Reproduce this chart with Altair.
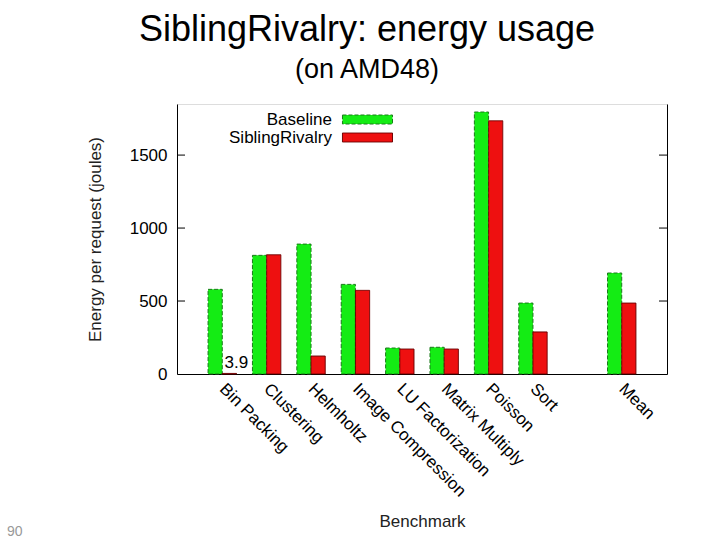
import altair as alt
import pandas as pd

# ---- data ----
benchmarks = ["Bin Packing", "Clustering", "Helmholtz", "Image Compression",
              "LU Factorization", "Matrix Multiply", "Poisson", "Sort", "Mean"]
baseline = [580, 813, 890, 614, 178, 183, 1795, 486, 692]
sibling = [3.9, 817, 123, 573, 171, 171, 1735, 288, 486]
series_names = ["Baseline", "SiblingRivalry"]
x_domain = ["Bin Packing", "Clustering", "Helmholtz", "Image Compression",
            "LU Factorization", "Matrix Multiply", "Poisson", "Sort", " ", "Mean"]
y_ticks = [500, 1000, 1500]
y_labels = [0, 500, 1000, 1500]
fill_colors = ["#14ec14", "#ee1010"]
stroke_colors = ["#1a7a1a", "#6a0000"]
title_text = ["SiblingRivalry: energy usage"]
subtitle_text = ["(on AMD48)"]
page_number = ["90"]

rows = []
for b, v1, v2 in zip(benchmarks, baseline, sibling):
    rows.append({"bench": b, "series": series_names[0], "value": v1})
    rows.append({"bench": b, "series": series_names[1], "value": v2})
df = pd.DataFrame(rows)
tick_df = pd.DataFrame({"t": y_ticks})
page_df = pd.DataFrame({"p": page_number})
title_df = pd.DataFrame({"t": title_text})
subtitle_df = pd.DataFrame({"t": subtitle_text})

W, H = 490, 270
FONT = "Liberation Sans"

x_enc = alt.X("bench:N",
              scale=alt.Scale(domain=x_domain, paddingInner=0.36, paddingOuter=0.7),
              axis=alt.Axis(title="Benchmark", labelAngle=45, labelAlign="left",
                            labelBaseline="middle", labelPadding=12, ticks=False,
                            labelFontSize=17, titleFontSize=17, titleFontWeight="normal",
                            titlePadding=14, labelColor="black", titleColor="#222",
                            domainColor="black", labelFont=FONT, titleFont=FONT))
y_scale = alt.Scale(domain=[0, 1850], nice=False, zero=True)
y_enc = alt.Y("value:Q", scale=y_scale,
              axis=alt.Axis(title="Energy per request (joules)", values=y_labels,
                            format="d", ticks=False, grid=False, labelPadding=10,
                            labelFontSize=17, titleFontSize=17, titleFontWeight="normal",
                            titlePadding=25, labelColor="black", titleColor="#222",
                            domainColor="black", labelFont=FONT, titleFont=FONT))

legend = alt.Legend(title=None, orient="none", legendX=26, legendY=6,
                    symbolType="M14.44,-0.5H20V0.5H14.44Z", symbolSize=324,
                    labelAlign="right", labelOffset=110, labelFontSize=17,
                    labelFont=FONT, labelColor="black", rowPadding=0, padding=0,
                    symbolStrokeWidth=1, symbolOpacity=1)

bars = alt.Chart(df).mark_bar(strokeWidth=1, opacity=1).encode(
    x=x_enc,
    xOffset=alt.XOffset("series:N", scale=alt.Scale(domain=series_names, paddingInner=0)),
    y=y_enc,
    fill=alt.Fill("series:N", scale=alt.Scale(domain=series_names, range=fill_colors), legend=legend),
    stroke=alt.Stroke("series:N", scale=alt.Scale(domain=series_names, range=stroke_colors), legend=legend),
    strokeDash=alt.StrokeDash("series:N", scale=alt.Scale(domain=series_names, range=[[4, 2], [1, 0]]), legend=legend),
)

label = alt.Chart(df).transform_filter(
    "datum.series == 'SiblingRivalry' && datum.value < 10"
).mark_text(baseline="bottom", align="center", dy=-1, dx=7, fontSize=17, font=FONT, color="black").encode(
    x=alt.X("bench:N"),
    xOffset=alt.XOffset("series:N"),
    y=alt.Y("value:Q", scale=y_scale, axis=None),
    text=alt.Text("value:Q", format=".1f"),
)

right_axis = alt.Chart(df).mark_bar(opacity=0).encode(
    x=alt.X("bench:N"),
    y=alt.Y("value:Q", scale=y_scale,
            axis=alt.Axis(orient="right", title=None, labels=False, ticks=False,
                          grid=False, domainColor="black")),
)

ticks_left = alt.Chart(tick_df).mark_rule(color="black", strokeWidth=1).encode(
    y=alt.Y("t:Q", scale=y_scale, axis=None),
    x=alt.value(0), x2=alt.value(8),
)
ticks_right = alt.Chart(tick_df).mark_rule(color="black", strokeWidth=1).encode(
    y=alt.Y("t:Q", scale=y_scale, axis=None),
    x=alt.value(W - 8), x2=alt.value(W),
)

title_mark = alt.Chart(title_df).mark_text(align="center", baseline="alphabetic", fontSize=36,
                                          font=FONT, color="black").encode(
    text="t:N", x=alt.value(190), y=alt.value(-63),
)
subtitle_mark = alt.Chart(subtitle_df).mark_text(align="center", baseline="alphabetic", fontSize=27,
                                                font=FONT, color="black").encode(
    text="t:N", x=alt.value(190), y=alt.value(-26),
)

page = alt.Chart(page_df).mark_text(align="left", baseline="alphabetic", fontSize=14,
                                   font=FONT, color="#999999").encode(
    text="p:N", x=alt.value(-170), y=alt.value(432),
)

chart = alt.layer(bars, label, ticks_left, ticks_right, right_axis,
                  title_mark, subtitle_mark, page).resolve_axis(
    y="independent"
).properties(
    width=W, height=H,
    autosize=alt.AutoSizeParams(type="none"),
    padding={"left": 177, "top": 104, "right": 53, "bottom": 166},
).configure_view(stroke=None).configure(background="white")

chart.save("out.html", embed_options={"renderer": "svg", "actions": False})
